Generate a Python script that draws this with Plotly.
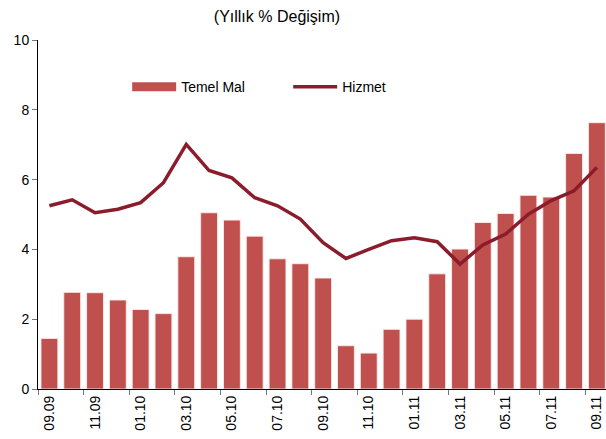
import plotly.graph_objects as go

months = ["09.09", "10.09", "11.09", "12.09", "01.10", "02.10", "03.10", "04.10",
          "05.10", "06.10", "07.10", "08.10", "09.10", "10.10", "11.10", "12.10",
          "01.11", "02.11", "03.11", "04.11", "05.11", "06.11", "07.11", "08.11", "09.11"]
temel_mal = [1.45, 2.77, 2.76, 2.55, 2.28, 2.16, 3.79, 5.05, 4.84, 4.38, 3.73, 3.59,
             3.18, 1.24, 1.03, 1.71, 2.00, 3.30, 4.01, 4.77, 5.03, 5.55, 5.50, 6.75, 7.63]
hizmet = [5.25, 5.42, 5.05, 5.15, 5.34, 5.91, 7.01, 6.26, 6.05, 5.48, 5.25, 4.87,
          4.19, 3.74, 4.00, 4.25, 4.33, 4.22, 3.58, 4.13, 4.44, 5.01, 5.40, 5.68, 6.35]
y_ticks = [0, 2, 4, 6, 8, 10]

idx = list(range(len(months)))
label_idx = idx[::2]
label_txt = [months[i] for i in label_idx]
tick_pos = [i - 0.5 for i in label_idx]

font = "Liberation Sans, Arial, sans-serif"
bar_color = "#C0504D"

fig = go.Figure()
fig.add_trace(go.Bar(
    x=idx, y=temel_mal, name="Temel Mal", width=0.74, showlegend=False,
    marker=dict(color=bar_color, line=dict(color="rgba(255,235,235,0.9)", width=1)),
))
# legend entry for the bars, drawn as a wide band like the reference
fig.add_trace(go.Scatter(
    x=[None], y=[None], name="Temel Mal", mode="lines",
    line=dict(color=bar_color, width=9), hoverinfo="skip",
))
fig.add_trace(go.Scatter(
    x=idx, y=hizmet, name="Hizmet", mode="lines",
    line=dict(color="#8B1C2C", width=3.5),
))
# invisible trace to carry the boundary tick marks axis
fig.add_trace(go.Scatter(x=[0], y=[0], xaxis="x2", mode="markers",
                         marker=dict(opacity=0), showlegend=False, hoverinfo="skip"))

rng = [-0.5, 24.4]
fig.update_layout(
    width=606, height=439,
    margin=dict(l=38, r=0, t=40, b=50),
    paper_bgcolor="white", plot_bgcolor="white",
    font=dict(family=font, size=14, color="black"),
    title=dict(text="(Yıllık % Değişim)", x=0.457, xanchor="center", y=0.962,
               yanchor="middle", font=dict(size=16, family=font)),
    showlegend=True,
    legend=dict(orientation="h", x=0.157, xanchor="left", y=0.865, yanchor="middle",
                entrywidth=102, entrywidthmode="pixels", itemwidth=44,
                font=dict(size=14), bgcolor="rgba(0,0,0,0)", traceorder="normal"),
    bargap=0.26,
    xaxis=dict(range=rng, tickmode="array", tickvals=label_idx, ticktext=label_txt,
               tickangle=-90, ticks="", showline=True, linecolor="black", linewidth=1,
               showgrid=False, zeroline=False, tickfont=dict(size=14), automargin=False),
    xaxis2=dict(range=rng, overlaying="x", side="bottom", tickmode="array",
                tickvals=tick_pos, ticks="outside", ticklen=5, tickcolor="#777",
                showticklabels=False, showline=False, showgrid=False, zeroline=False),
    yaxis=dict(range=[0, 10], tickmode="array", tickvals=y_ticks, ticks="outside",
               ticklen=5, tickcolor="#777", showline=True, linecolor="black", linewidth=1,
               showgrid=False, zeroline=False, tickfont=dict(size=14), automargin=False),
)

fig.write_html("out.html", config={"displayModeBar": False},
               post_script="document.body.style.margin='0';")
